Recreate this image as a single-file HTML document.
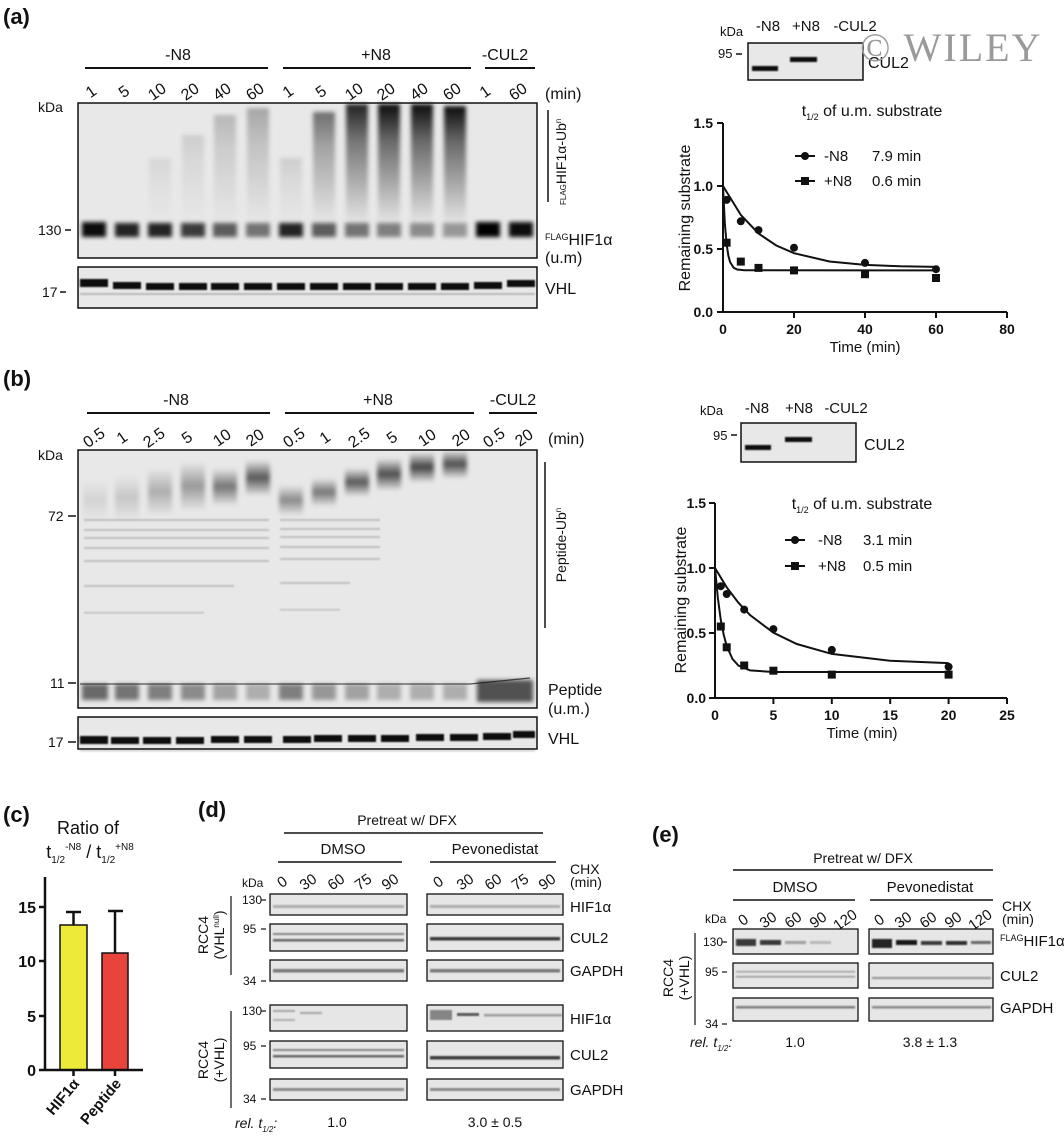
<!DOCTYPE html>
<html><head><meta charset="utf-8"><style>
html,body{margin:0;padding:0;background:#fff}
svg{display:block}
text{font-family:"Liberation Sans",sans-serif;fill:#111}
</style></head><body>
<svg width="1064" height="1139" viewBox="0 0 1064 1139" xmlns="http://www.w3.org/2000/svg">
<defs>
<linearGradient id="sm" x1="0" y1="0" x2="0" y2="1">
<stop offset="0" stop-color="#000" stop-opacity="0.95"/><stop offset="0.3" stop-color="#000" stop-opacity="0.55"/><stop offset="1" stop-color="#000" stop-opacity="0"/></linearGradient>
<linearGradient id="bl" x1="0" y1="0" x2="0" y2="1">
<stop offset="0" stop-color="#000" stop-opacity="0"/><stop offset="0.5" stop-color="#000" stop-opacity="0.9"/><stop offset="1" stop-color="#000" stop-opacity="0.05"/></linearGradient>
<filter id="b1" x="-30%" y="-30%" width="160%" height="160%"><feGaussianBlur stdDeviation="2.2"/></filter>
<filter id="b2" x="-10%" y="-100%" width="120%" height="300%"><feGaussianBlur stdDeviation="0.9"/></filter>
</defs>

<!-- ===== (a) ===== -->
<text x="3" y="24" font-size="22" font-weight="bold">(a)</text>
<g font-size="16" text-anchor="middle">
<text x="178" y="60">-N8</text><text x="376" y="60">+N8</text><text x="505" y="60">-CUL2</text></g>
<g stroke="#111" stroke-width="2"><line x1="85" y1="68" x2="268" y2="68"/><line x1="283" y1="68" x2="471" y2="68"/><line x1="485" y1="68" x2="535" y2="68"/></g>
<g font-size="16" text-anchor="middle">
<text transform="translate(94,96) rotate(-35)">1</text><text transform="translate(127,96) rotate(-35)">5</text><text transform="translate(160,96) rotate(-35)">10</text><text transform="translate(193,96) rotate(-35)">20</text><text transform="translate(225,96) rotate(-35)">40</text><text transform="translate(258,96) rotate(-35)">60</text>
<text transform="translate(291,96) rotate(-35)">1</text><text transform="translate(324,96) rotate(-35)">5</text><text transform="translate(357,96) rotate(-35)">10</text><text transform="translate(389,96) rotate(-35)">20</text><text transform="translate(422,96) rotate(-35)">40</text><text transform="translate(455,96) rotate(-35)">60</text>
<text transform="translate(488,96) rotate(-35)">1</text><text transform="translate(521,96) rotate(-35)">60</text></g>
<text x="545" y="99" font-size="16">(min)</text>
<text x="38" y="112" font-size="14">kDa</text>
<text x="38" y="235" font-size="14">130</text><line x1="65" y1="230" x2="71" y2="230" stroke="#111" stroke-width="1.5"/>
<text x="42" y="297" font-size="14">17</text><line x1="60" y1="292" x2="66" y2="292" stroke="#111" stroke-width="1.5"/>
<rect x="78" y="103" width="459" height="155" fill="#e8e8e8"/>
<g filter="url(#b1)" fill="url(#sm)">
<rect x="149" y="158" width="22" height="67" opacity="0.08"/>
<rect x="182" y="135" width="22" height="90" opacity="0.12"/>
<rect x="214" y="115" width="22" height="110" opacity="0.22"/>
<rect x="247" y="108" width="22" height="117" opacity="0.3"/>
<rect x="280" y="158" width="22" height="67" opacity="0.12"/>
<rect x="313" y="112" width="22" height="113" opacity="0.55"/>
<rect x="346" y="104" width="22" height="121" opacity="0.9"/>
<rect x="378" y="104" width="22" height="121" opacity="1"/>
<rect x="411" y="104" width="22" height="121" opacity="1"/>
<rect x="444" y="106" width="22" height="119" opacity="1"/>
</g>
<g filter="url(#b1)" fill="#000">
<rect x="82" y="222" width="24" height="15" opacity="0.95"/><rect x="115" y="223" width="24" height="14" opacity="0.85"/><rect x="148" y="223" width="24" height="14" opacity="0.85"/><rect x="181" y="223" width="24" height="14" opacity="0.75"/><rect x="213" y="223" width="24" height="14" opacity="0.6"/><rect x="246" y="223" width="24" height="14" opacity="0.5"/>
<rect x="279" y="223" width="24" height="14" opacity="0.85"/><rect x="312" y="223" width="24" height="14" opacity="0.6"/><rect x="345" y="223" width="24" height="14" opacity="0.5"/><rect x="377" y="223" width="24" height="14" opacity="0.45"/><rect x="410" y="223" width="24" height="14" opacity="0.4"/><rect x="443" y="223" width="24" height="14" opacity="0.35"/>
<rect x="476" y="222" width="24" height="15" opacity="1"/><rect x="509" y="222" width="24" height="15" opacity="0.95"/>
</g>
<rect x="78" y="103" width="459" height="155" fill="none" stroke="#111" stroke-width="1.5"/>
<rect x="78" y="267" width="459" height="41" fill="#e8e8e8"/>
<g filter="url(#b2)" fill="#111">
<rect x="80" y="279" width="28" height="8"/><rect x="113" y="282" width="28" height="7"/><rect x="146" y="283" width="28" height="7"/><rect x="179" y="283" width="28" height="7"/><rect x="211" y="283" width="28" height="7"/><rect x="244" y="283" width="28" height="7"/><rect x="277" y="283" width="28" height="7"/><rect x="310" y="283" width="28" height="7"/><rect x="343" y="283" width="28" height="7"/><rect x="375" y="283" width="28" height="7"/><rect x="408" y="283" width="28" height="7"/><rect x="441" y="283" width="28" height="7"/><rect x="474" y="282" width="28" height="7"/><rect x="507" y="280" width="28" height="7"/>
<rect x="80" y="293" width="455" height="2" opacity="0.2"/>
</g>
<rect x="78" y="267" width="459" height="41" fill="none" stroke="#111" stroke-width="1.5"/>
<line x1="548" y1="110" x2="548" y2="202" stroke="#111" stroke-width="1.5"/>
<text transform="translate(566,205) rotate(-90)" font-size="14"><tspan font-size="8">FLAG</tspan>HIF1α-Ub<tspan font-size="8" dy="-5">n</tspan></text>
<text x="545" y="245" font-size="16"><tspan font-size="9" dy="-5">FLAG</tspan><tspan dy="5">HIF1α</tspan></text>
<text x="545" y="263" font-size="16">(u.m)</text>
<text x="545" y="294" font-size="16">VHL</text>

<!-- CUL2 inset a -->
<text x="720" y="36" font-size="13">kDa</text>
<g font-size="15" text-anchor="middle"><text x="768" y="31">-N8</text><text x="806" y="31">+N8</text><text x="855" y="31">-CUL2</text></g>
<text x="718" y="58" font-size="13">95</text><line x1="736" y1="54" x2="742" y2="54" stroke="#111" stroke-width="1.5"/>
<rect x="748" y="43" width="115" height="37" fill="#e8e8e8" stroke="#111" stroke-width="1.5"/>
<g filter="url(#b2)" fill="#111"><rect x="752" y="66" width="26" height="5"/><rect x="790" y="57" width="27" height="5"/></g>
<text x="868" y="68" font-size="16">CUL2</text>
<text x="860" y="61" font-size="40" letter-spacing="2" style="fill:#9a9a9a;font-family:'Liberation Serif',serif">© WILEY</text>

<!-- graph a -->
<text x="872" y="116" font-size="16" text-anchor="middle">t<tspan font-size="9" dy="4">1/2</tspan><tspan dy="-4"> of u.m. substrate</tspan></text>
<g stroke="#111" stroke-width="2" fill="none">
<line x1="723" y1="123" x2="723" y2="312"/><line x1="723" y1="312" x2="1007" y2="312"/>
<line x1="717" y1="123" x2="723" y2="123"/><line x1="717" y1="186" x2="723" y2="186"/><line x1="717" y1="249" x2="723" y2="249"/><line x1="717" y1="312" x2="723" y2="312"/>
<line x1="794" y1="312" x2="794" y2="318"/><line x1="865" y1="312" x2="865" y2="318"/><line x1="936" y1="312" x2="936" y2="318"/><line x1="1007" y1="312" x2="1007" y2="318"/>
<polyline points="723,186 740.8,214.9 758.5,233.5 776.3,245.5 794,253.2 829.5,261.5 865,264.9 900.5,266.3 936,266.9"/>
<polyline points="723,186 724.8,223 726.6,243.8 728.3,255.4 730.1,262.1 733.7,267.8 737.2,269.5 744.3,270.3 936,270.4"/>
<line x1="795" y1="156" x2="815" y2="156"/><line x1="795" y1="181" x2="815" y2="181"/>
</g>
<g fill="#111">
<circle cx="726.6" cy="199.9" r="4"/><circle cx="740.8" cy="221.3" r="4"/><circle cx="758.5" cy="230.1" r="4"/><circle cx="794" cy="247.7" r="4"/><circle cx="865" cy="262.9" r="4"/><circle cx="936" cy="269.2" r="4"/>
<rect x="722.6" y="238.7" width="8" height="8"/><rect x="736.8" y="257.6" width="8" height="8"/><rect x="754.5" y="263.9" width="8" height="8"/><rect x="790" y="266.4" width="8" height="8"/><rect x="861" y="270.2" width="8" height="8"/><rect x="932" y="274" width="8" height="8"/>
<circle cx="805" cy="156" r="4"/><rect x="801" y="177" width="8" height="8"/>
</g>
<g font-size="15"><text x="824" y="161">-N8</text><text x="872" y="161">7.9 min</text><text x="824" y="186">+N8</text><text x="872" y="186">0.6 min</text></g>
<g font-size="14" font-weight="bold" text-anchor="end"><text x="713" y="128">1.5</text><text x="713" y="191">1.0</text><text x="713" y="254">0.5</text><text x="713" y="317">0.0</text></g>
<g font-size="14" font-weight="bold" text-anchor="middle"><text x="723" y="334">0</text><text x="794" y="334">20</text><text x="865" y="334">40</text><text x="936" y="334">60</text><text x="1007" y="334">80</text></g>
<text x="865" y="352" font-size="15" text-anchor="middle">Time (min)</text>
<text transform="translate(690,218) rotate(-90)" font-size="16" text-anchor="middle">Remaining substrate</text>

<!-- ===== (b) ===== -->
<text x="3" y="386" font-size="22" font-weight="bold">(b)</text>
<g font-size="16" text-anchor="middle"><text x="176" y="405">-N8</text><text x="378" y="405">+N8</text><text x="513" y="405">-CUL2</text></g>
<g stroke="#111" stroke-width="2"><line x1="87" y1="413" x2="270" y2="413"/><line x1="285" y1="413" x2="474" y2="413"/><line x1="489" y1="413" x2="537" y2="413"/></g>
<g font-size="16" text-anchor="middle">
<text transform="translate(97,442) rotate(-35)">0.5</text><text transform="translate(125,442) rotate(-35)">1</text><text transform="translate(157,442) rotate(-35)">2.5</text><text transform="translate(190,442) rotate(-35)">5</text><text transform="translate(225,442) rotate(-35)">10</text><text transform="translate(258,442) rotate(-35)">20</text>
<text transform="translate(297,442) rotate(-35)">0.5</text><text transform="translate(328,442) rotate(-35)">1</text><text transform="translate(362,442) rotate(-35)">2.5</text><text transform="translate(395,442) rotate(-35)">5</text><text transform="translate(430,442) rotate(-35)">10</text><text transform="translate(464,442) rotate(-35)">20</text>
<text transform="translate(497,442) rotate(-35)">0.5</text><text transform="translate(527,442) rotate(-35)">20</text></g>
<text x="548" y="444" font-size="16">(min)</text>
<text x="38" y="460" font-size="14">kDa</text>
<text x="48" y="521" font-size="14">72</text><line x1="68" y1="516" x2="76" y2="516" stroke="#111" stroke-width="1.5"/>
<text x="50" y="688" font-size="14">11</text><line x1="68" y1="683" x2="76" y2="683" stroke="#111" stroke-width="1.5"/>
<text x="48" y="747" font-size="14">17</text><line x1="68" y1="742" x2="76" y2="742" stroke="#111" stroke-width="1.5"/>
<rect x="78" y="450" width="459" height="258" fill="#e8e8e8"/>
<g filter="url(#b1)" fill="url(#bl)">
<rect x="83" y="480" width="24" height="40" opacity="0.1"/>
<rect x="115" y="475" width="24" height="45" opacity="0.16"/>
<rect x="148" y="468" width="24" height="47" opacity="0.28"/>
<rect x="181" y="462" width="24" height="48" opacity="0.38"/>
<rect x="213" y="468" width="24" height="37" opacity="0.55"/>
<rect x="246" y="460" width="24" height="35" opacity="0.7"/>
<rect x="279" y="485" width="24" height="30" opacity="0.45"/>
<rect x="312" y="478" width="24" height="28" opacity="0.55"/>
<rect x="345" y="468" width="24" height="28" opacity="0.7"/>
<rect x="377" y="458" width="24" height="32" opacity="0.75"/>
<rect x="410" y="452" width="24" height="30" opacity="0.8"/>
<rect x="443" y="450" width="24" height="28" opacity="0.75"/>
</g>
<g filter="url(#b2)" fill="#333" opacity="0.22">
<rect x="84" y="519" width="185" height="2"/><rect x="84" y="529" width="185" height="2"/><rect x="84" y="537" width="185" height="2"/><rect x="84" y="547" width="185" height="2"/><rect x="84" y="560" width="185" height="2"/><rect x="84" y="585" width="150" height="2"/><rect x="84" y="612" width="120" height="1.5"/>
<rect x="280" y="519" width="100" height="2"/><rect x="280" y="528" width="100" height="2"/><rect x="280" y="536" width="100" height="2"/><rect x="280" y="546" width="100" height="2"/><rect x="280" y="558" width="100" height="2"/><rect x="280" y="582" width="70" height="2"/><rect x="280" y="609" width="60" height="1.5"/>
</g>
<g filter="url(#b1)" fill="#000">
<rect x="82" y="684" width="26" height="16" opacity="0.55"/><rect x="115" y="684" width="24" height="16" opacity="0.5"/><rect x="148" y="684" width="24" height="16" opacity="0.45"/><rect x="181" y="684" width="24" height="16" opacity="0.4"/><rect x="213" y="684" width="24" height="16" opacity="0.3"/><rect x="246" y="684" width="24" height="16" opacity="0.25"/>
<rect x="279" y="684" width="24" height="16" opacity="0.45"/><rect x="312" y="684" width="24" height="16" opacity="0.35"/><rect x="345" y="684" width="24" height="16" opacity="0.3"/><rect x="377" y="684" width="24" height="16" opacity="0.25"/><rect x="410" y="684" width="24" height="16" opacity="0.25"/><rect x="443" y="684" width="24" height="16" opacity="0.25"/>
<rect x="477" y="680" width="56" height="22" opacity="0.65"/>
</g>
<path d="M80 684 L470 684 L500 681 L530 678" stroke="#111" stroke-width="1.3" fill="none" opacity="0.7"/>
<rect x="78" y="450" width="459" height="258" fill="none" stroke="#111" stroke-width="1.5"/>
<rect x="78" y="717" width="459" height="32" fill="#e8e8e8"/>
<g filter="url(#b2)" fill="#111">
<rect x="80" y="736" width="28" height="8"/><rect x="111" y="737" width="28" height="7"/><rect x="143" y="737" width="28" height="7"/><rect x="176" y="737" width="28" height="7"/><rect x="211" y="736" width="28" height="7"/><rect x="244" y="736" width="28" height="7"/><rect x="283" y="736" width="28" height="7"/><rect x="314" y="735" width="28" height="7"/><rect x="348" y="735" width="28" height="7"/><rect x="381" y="735" width="28" height="7"/><rect x="416" y="734" width="28" height="7"/><rect x="450" y="734" width="28" height="7"/><rect x="483" y="733" width="28" height="7"/><rect x="513" y="731" width="22" height="7"/>
<rect x="80" y="750" width="455" height="1.5" opacity="0.2"/></g>
<rect x="78" y="717" width="459" height="32" fill="none" stroke="#111" stroke-width="1.5"/>
<line x1="545" y1="462" x2="545" y2="628" stroke="#111" stroke-width="1.5"/>
<text transform="translate(566,545) rotate(-90)" font-size="14" text-anchor="middle">Peptide-Ub<tspan font-size="8" dy="-5">n</tspan></text>
<text x="548" y="695" font-size="16">Peptide</text>
<text x="548" y="714" font-size="16">(u.m.)</text>
<text x="548" y="744" font-size="16">VHL</text>

<!-- CUL2 inset b -->
<text x="700" y="415" font-size="13">kDa</text>
<g font-size="15" text-anchor="middle"><text x="757" y="413">-N8</text><text x="799" y="413">+N8</text><text x="846" y="413">-CUL2</text></g>
<text x="713" y="440" font-size="13">95</text><line x1="731" y1="435" x2="737" y2="435" stroke="#111" stroke-width="1.5"/>
<rect x="741" y="423" width="115" height="39" fill="#e8e8e8" stroke="#111" stroke-width="1.5"/>
<g filter="url(#b2)" fill="#111"><rect x="745" y="445" width="26" height="5"/><rect x="785" y="437" width="27" height="5"/></g>
<text x="864" y="450" font-size="16">CUL2</text>

<!-- graph b -->
<text x="862" y="509" font-size="16" text-anchor="middle">t<tspan font-size="9" dy="4">1/2</tspan><tspan dy="-4"> of u.m. substrate</tspan></text>
<g stroke="#111" stroke-width="2" fill="none">
<line x1="715" y1="503" x2="715" y2="698"/><line x1="715" y1="698" x2="1007" y2="698"/>
<line x1="709" y1="503" x2="715" y2="503"/><line x1="709" y1="568" x2="715" y2="568"/><line x1="709" y1="633" x2="715" y2="633"/><line x1="709" y1="698" x2="715" y2="698"/>
<line x1="773.4" y1="698" x2="773.4" y2="704"/><line x1="831.8" y1="698" x2="831.8" y2="704"/><line x1="890.2" y1="698" x2="890.2" y2="704"/><line x1="948.6" y1="698" x2="948.6" y2="704"/><line x1="1007" y1="698" x2="1007" y2="704"/>
<polyline points="715,568 726.7,587.3 738.4,602.7 750,615 773.4,632.7 796.8,644 831.8,653.9 890.2,660.8 948.6,663.1"/>
<polyline points="715,568 717.9,598.4 720.8,620 723.8,635.2 726.7,646 732.5,659 738.4,665.5 750,670.4 773.4,672 948.6,672"/>
<line x1="785" y1="540" x2="805" y2="540"/><line x1="785" y1="566" x2="805" y2="566"/>
</g>
<g fill="#111">
<circle cx="720.8" cy="586.2" r="4"/><circle cx="726.7" cy="594" r="4"/><circle cx="744.2" cy="609.6" r="4"/><circle cx="773.4" cy="629.1" r="4"/><circle cx="831.8" cy="649.9" r="4"/><circle cx="948.6" cy="666.8" r="4"/>
<rect x="716.8" y="622.5" width="8" height="8"/><rect x="722.7" y="643.3" width="8" height="8"/><rect x="740.2" y="661.5" width="8" height="8"/><rect x="769.4" y="666.7" width="8" height="8"/><rect x="827.8" y="670.6" width="8" height="8"/><rect x="944.6" y="670.6" width="8" height="8"/>
<circle cx="795" cy="540" r="4"/><rect x="791" y="562" width="8" height="8"/>
</g>
<g font-size="15"><text x="818" y="545">-N8</text><text x="863" y="545">3.1 min</text><text x="818" y="571">+N8</text><text x="863" y="571">0.5 min</text></g>
<g font-size="14" font-weight="bold" text-anchor="end"><text x="706" y="508">1.5</text><text x="706" y="573">1.0</text><text x="706" y="638">0.5</text><text x="706" y="703">0.0</text></g>
<g font-size="14" font-weight="bold" text-anchor="middle"><text x="715" y="720">0</text><text x="773.4" y="720">5</text><text x="831.8" y="720">10</text><text x="890.2" y="720">15</text><text x="948.6" y="720">20</text><text x="1007" y="720">25</text></g>
<text x="862" y="738" font-size="15" text-anchor="middle">Time (min)</text>
<text transform="translate(686,600) rotate(-90)" font-size="16" text-anchor="middle">Remaining substrate</text>

<!-- ===== (c) ===== -->
<text x="3" y="822" font-size="22" font-weight="bold">(c)</text>
<text x="88" y="834" font-size="18" text-anchor="middle">Ratio of</text>
<text x="90" y="858" font-size="18" text-anchor="middle">t<tspan font-size="10" dy="5">1/2</tspan><tspan font-size="10" dy="-13">-N8</tspan><tspan dy="8"> / t</tspan><tspan font-size="10" dy="5">1/2</tspan><tspan font-size="10" dy="-13">+N8</tspan></text>
<rect x="60" y="925" width="27" height="145" fill="#eeea3a" stroke="#111" stroke-width="1.5"/>
<rect x="102" y="953" width="26" height="117" fill="#e8443c" stroke="#111" stroke-width="1.5"/>
<g stroke="#111" stroke-width="2.5" fill="none">
<line x1="73.5" y1="925" x2="73.5" y2="912"/><line x1="66" y1="912" x2="81" y2="912"/>
<line x1="115" y1="953" x2="115" y2="911"/><line x1="108" y1="911" x2="123" y2="911"/>
<line x1="45" y1="877" x2="45" y2="1070"/><line x1="45" y1="1070" x2="143" y2="1070"/>
<line x1="39" y1="907" x2="45" y2="907"/><line x1="39" y1="961" x2="45" y2="961"/><line x1="39" y1="1016" x2="45" y2="1016"/><line x1="39" y1="1070" x2="45" y2="1070"/>
<line x1="73.5" y1="1070" x2="73.5" y2="1076"/><line x1="115" y1="1070" x2="115" y2="1076"/>
</g>
<g font-size="16" font-weight="bold" text-anchor="end"><text x="36" y="913">15</text><text x="36" y="967">10</text><text x="36" y="1022">5</text><text x="36" y="1076">0</text></g>
<g font-size="15" font-weight="bold" text-anchor="end"><text transform="translate(80,1084) rotate(-50)">HIF1α</text><text transform="translate(122,1084) rotate(-50)">Peptide</text></g>

<!-- ===== (d) ===== -->
<text x="198" y="817" font-size="22" font-weight="bold">(d)</text>
<text x="407" y="825" font-size="14" text-anchor="middle">Pretreat w/ DFX</text>
<line x1="284" y1="833" x2="543" y2="833" stroke="#111" stroke-width="1.5"/>
<text x="343" y="854" font-size="15" text-anchor="middle">DMSO</text>
<line x1="278" y1="862" x2="402" y2="862" stroke="#111" stroke-width="1.5"/>
<text x="495" y="854" font-size="15" text-anchor="middle">Pevonedistat</text>
<line x1="430" y1="862" x2="556" y2="862" stroke="#111" stroke-width="1.5"/>
<g font-size="15" text-anchor="middle">
<text transform="translate(285,886) rotate(-35)">0</text><text transform="translate(311,886) rotate(-35)">30</text><text transform="translate(339,886) rotate(-35)">60</text><text transform="translate(366,886) rotate(-35)">75</text><text transform="translate(393,886) rotate(-35)">90</text>
<text transform="translate(441,886) rotate(-35)">0</text><text transform="translate(468,886) rotate(-35)">30</text><text transform="translate(496,886) rotate(-35)">60</text><text transform="translate(523,886) rotate(-35)">75</text><text transform="translate(550,886) rotate(-35)">90</text></g>
<text x="570" y="874" font-size="14">CHX</text><text x="570" y="887" font-size="14">(min)</text>
<text x="242" y="887" font-size="12">kDa</text>
<g font-size="12"><text x="242" y="904">130</text><text x="243" y="933">95</text><text x="243" y="985">34</text><text x="242" y="1015">130</text><text x="243" y="1050">95</text><text x="243" y="1103">34</text></g>
<g stroke="#111" stroke-width="1.2"><line x1="261" y1="900" x2="266" y2="900"/><line x1="261" y1="929" x2="266" y2="929"/><line x1="261" y1="981" x2="266" y2="981"/><line x1="261" y1="1011" x2="266" y2="1011"/><line x1="261" y1="1046" x2="266" y2="1046"/><line x1="261" y1="1099" x2="266" y2="1099"/>
<line x1="231" y1="896" x2="231" y2="975"/><line x1="231" y1="1011" x2="231" y2="1108"/></g>
<text transform="translate(208,935) rotate(-90)" font-size="14" text-anchor="middle">RCC4</text>
<text transform="translate(224,935) rotate(-90)" font-size="14" text-anchor="middle">(VHL<tspan font-size="8" dy="-5">null</tspan><tspan dy="5">)</tspan></text>
<text transform="translate(208,1060) rotate(-90)" font-size="14" text-anchor="middle">RCC4</text>
<text transform="translate(224,1060) rotate(-90)" font-size="14" text-anchor="middle">(+VHL)</text>
<g fill="#e6e6e6" stroke="#111" stroke-width="1.3">
<rect x="270" y="894" width="137" height="21"/><rect x="427" y="894" width="136" height="21"/>
<rect x="270" y="924" width="137" height="27"/><rect x="427" y="924" width="136" height="27"/>
<rect x="270" y="960" width="137" height="21"/><rect x="427" y="960" width="136" height="21"/>
<rect x="270" y="1005" width="137" height="26"/><rect x="427" y="1005" width="136" height="26"/>
<rect x="270" y="1041" width="137" height="27"/><rect x="427" y="1041" width="136" height="27"/>
<rect x="270" y="1079" width="137" height="21"/><rect x="427" y="1079" width="136" height="21"/>
</g>
<g filter="url(#b2)" fill="#333">
<rect x="273" y="905" width="131" height="3" opacity="0.3"/><rect x="430" y="905" width="130" height="3" opacity="0.3"/>
<rect x="273" y="933" width="131" height="2" opacity="0.55"/><rect x="273" y="939" width="131" height="2.5" opacity="0.7"/>
<rect x="430" y="937" width="130" height="3.5" opacity="0.95"/>
<rect x="273" y="969" width="131" height="3.5" opacity="0.6"/><rect x="430" y="969" width="130" height="3.5" opacity="0.6"/>
<rect x="273" y="1010" width="22" height="2" opacity="0.35"/><rect x="273" y="1019" width="22" height="2" opacity="0.3"/><rect x="300" y="1012" width="22" height="2" opacity="0.35"/>
<rect x="430" y="1010" width="22" height="10" opacity="0.55"/><rect x="457" y="1013" width="22" height="3" opacity="0.8"/><rect x="484" y="1014" width="78" height="2.5" opacity="0.4"/>
<rect x="273" y="1049" width="131" height="2" opacity="0.55"/><rect x="273" y="1055" width="131" height="2.5" opacity="0.7"/>
<rect x="430" y="1056" width="130" height="3.5" opacity="0.95"/>
<rect x="273" y="1088" width="131" height="3" opacity="0.5"/><rect x="430" y="1088" width="130" height="3" opacity="0.5"/>
</g>
<g font-size="15"><text x="570" y="912">HIF1α</text><text x="570" y="943">CUL2</text><text x="570" y="976">GAPDH</text><text x="570" y="1024">HIF1α</text><text x="570" y="1060">CUL2</text><text x="570" y="1095">GAPDH</text></g>
<text x="235" y="1128" font-size="14" font-style="italic">rel. t<tspan font-size="8" dy="4">1/2</tspan><tspan dy="-4">:</tspan></text>
<text x="337" y="1127" font-size="14" text-anchor="middle">1.0</text>
<text x="495" y="1127" font-size="14" text-anchor="middle">3.0 ± 0.5</text>

<!-- ===== (e) ===== -->
<text x="652" y="842" font-size="22" font-weight="bold">(e)</text>
<text x="863" y="863" font-size="14" text-anchor="middle">Pretreat w/ DFX</text>
<line x1="733" y1="870" x2="993" y2="870" stroke="#111" stroke-width="1.5"/>
<text x="795" y="892" font-size="15" text-anchor="middle">DMSO</text>
<line x1="733" y1="900" x2="855" y2="900" stroke="#111" stroke-width="1.5"/>
<text x="930" y="892" font-size="15" text-anchor="middle">Pevonedistat</text>
<line x1="870" y1="900" x2="993" y2="900" stroke="#111" stroke-width="1.5"/>
<g font-size="15" text-anchor="middle">
<text transform="translate(746,924) rotate(-35)">0</text><text transform="translate(771,924) rotate(-35)">30</text><text transform="translate(796,924) rotate(-35)">60</text><text transform="translate(821,924) rotate(-35)">90</text><text transform="translate(848,924) rotate(-35)">120</text>
<text transform="translate(882,924) rotate(-35)">0</text><text transform="translate(906,924) rotate(-35)">30</text><text transform="translate(931,924) rotate(-35)">60</text><text transform="translate(956,924) rotate(-35)">90</text><text transform="translate(983,924) rotate(-35)">120</text></g>
<text x="1002" y="911" font-size="14">CHX</text><text x="1002" y="924" font-size="14">(min)</text>
<text x="705" y="923" font-size="12">kDa</text>
<g font-size="12"><text x="703" y="946">130</text><text x="705" y="976">95</text><text x="705" y="1028">34</text></g>
<g stroke="#111" stroke-width="1.2"><line x1="722" y1="942" x2="727" y2="942"/><line x1="722" y1="972" x2="727" y2="972"/><line x1="722" y1="1024" x2="727" y2="1024"/><line x1="695" y1="933" x2="695" y2="1025"/></g>
<text transform="translate(673,978) rotate(-90)" font-size="14" text-anchor="middle">RCC4</text>
<text transform="translate(689,978) rotate(-90)" font-size="14" text-anchor="middle">(+VHL)</text>
<g fill="#e6e6e6" stroke="#111" stroke-width="1.3">
<rect x="733" y="929" width="125" height="25"/><rect x="869" y="929" width="124" height="25"/>
<rect x="733" y="963" width="125" height="25"/><rect x="869" y="963" width="124" height="25"/>
<rect x="733" y="998" width="125" height="23"/><rect x="869" y="998" width="124" height="23"/>
</g>
<g filter="url(#b2)" fill="#111">
<rect x="736" y="939" width="20" height="7" opacity="0.8"/><rect x="760" y="940" width="21" height="5" opacity="0.8"/><rect x="785" y="941" width="21" height="3" opacity="0.35"/><rect x="810" y="941" width="21" height="3" opacity="0.2"/>
<rect x="872" y="939" width="20" height="9" opacity="0.9"/><rect x="896" y="940" width="21" height="5" opacity="0.95"/><rect x="921" y="941" width="21" height="4" opacity="0.8"/><rect x="946" y="941" width="21" height="4" opacity="0.85"/><rect x="971" y="941" width="20" height="3" opacity="0.6"/>
<rect x="736" y="971" width="119" height="1.5" opacity="0.35"/><rect x="736" y="976" width="119" height="1.5" opacity="0.4"/>
<rect x="872" y="977" width="119" height="2" opacity="0.4"/>
<rect x="736" y="1006" width="119" height="2.5" opacity="0.5"/><rect x="872" y="1006" width="119" height="2.5" opacity="0.45"/>
</g>
<text x="1000" y="946" font-size="15"><tspan font-size="9" dy="-5">FLAG</tspan><tspan dy="5">HIF1α</tspan></text>
<text x="1000" y="981" font-size="15">CUL2</text>
<text x="1000" y="1013" font-size="15">GAPDH</text>
<text x="690" y="1047" font-size="14" font-style="italic">rel. t<tspan font-size="8" dy="4">1/2</tspan><tspan dy="-4">:</tspan></text>
<text x="795" y="1047" font-size="14" text-anchor="middle">1.0</text>
<text x="930" y="1047" font-size="14" text-anchor="middle">3.8 ± 1.3</text>
</svg>
</body></html>
